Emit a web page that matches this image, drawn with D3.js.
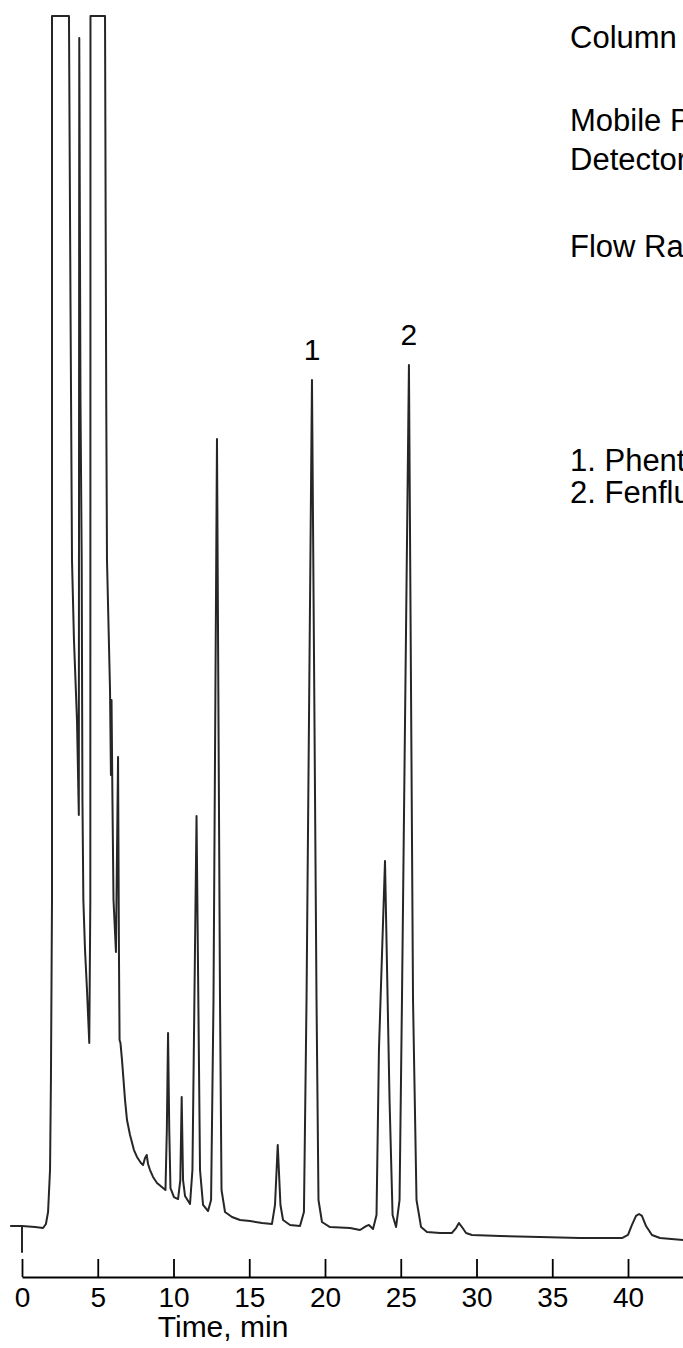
<!DOCTYPE html>
<html>
<head>
<meta charset="utf-8">
<script src="https://cdn.jsdelivr.net/npm/d3@7/dist/d3.min.js"></script>
<style>
  html, body { margin: 0; padding: 0; background: #fff; }
  svg { display: block; }
  text { font-family: "Liberation Sans", Arial, sans-serif; fill: #000; }
</style>
</head>
<body>
<svg id="chart" width="683" height="1348"></svg>
<script>
const traceTime = [
  -0.73, 0.00, 0.86, 1.39, 1.58, 1.72, 1.85, 1.91, 1.98, 1.98,
  3.10, 3.20, 3.30, 3.43, 3.63, 3.75, 3.78, 3.86, 3.94, 3.99,
  4.05, 4.16, 4.29, 4.44, 4.51, 4.52, 5.48, 5.56, 5.61, 5.81,
  5.87, 5.91, 5.97, 6.04, 6.20, 6.34, 6.40, 6.44, 6.50, 6.60,
  6.80, 6.93, 7.13, 7.39, 7.59, 7.85, 7.99, 8.12, 8.23, 8.32,
  8.45, 8.65, 8.91, 9.31, 9.47, 9.56, 9.64, 9.72, 9.80, 10.03,
  10.30, 10.45, 10.54, 10.63, 10.76, 11.09, 11.25, 11.52, 11.75, 11.95,
  12.28, 12.48, 12.64, 12.87, 13.07, 13.17, 13.40, 13.86, 14.39, 15.05,
  15.84, 16.50, 16.70, 16.88, 17.06, 17.23, 17.69, 18.35, 18.61, 18.78,
  19.14, 19.44, 19.57, 19.80, 20.33, 21.65, 22.31, 22.71, 22.90, 23.17,
  23.40, 23.56, 23.96, 24.26, 24.46, 24.69, 24.92, 25.08, 25.54, 25.81,
  26.04, 26.34, 26.73, 27.59, 28.38, 28.65, 28.84, 29.04, 29.31, 29.70,
  31.55, 34.19, 36.83, 39.60, 40.00, 40.26, 40.53, 40.73, 40.92, 41.19,
  41.58, 42.11, 43.63
];

// Detector response (% of recorder full scale) at each of those times
const traceSignal = [
  1.94, 1.94, 1.86, 1.78, 2.11, 3.08, 6.48, 13.78, 28.36, 100,
  100, 76.99, 55.92, 49.43, 42.95, 35.25, 98.22, 68.88, 55.92, 36.47,
  28.36, 24.31, 21.07, 16.77, 28.36, 100, 100, 68.88, 55.92, 45.38,
  38.49, 44.57, 36.47, 28.36, 24.15, 39.95, 23.91, 17.02, 16.77, 15.40,
  12.16, 10.53, 9.32, 8.10, 7.54, 7.05, 6.89, 7.46, 7.70, 6.97,
  6.48, 5.92, 5.43, 5.02, 4.86, 9.72, 17.59, 9.72, 5.02, 4.29,
  4.13, 5.67, 12.40, 5.67, 4.38, 3.73, 6.48, 35.17, 6.48, 3.65,
  3.16, 4.05, 20.26, 65.72, 20.26, 4.86, 3.08, 2.67, 2.43, 2.35,
  2.19, 2.11, 3.65, 8.51, 3.65, 2.43, 2.03, 1.94, 3.08, 20.26,
  70.50, 20.26, 4.05, 2.27, 1.86, 1.78, 1.62, 1.94, 2.03, 1.70,
  2.84, 16.21, 31.52, 12.16, 2.84, 1.86, 4.05, 20.26, 71.72, 20.26,
  4.05, 1.86, 1.46, 1.38, 1.38, 1.78, 2.19, 1.86, 1.38, 1.22,
  1.13, 1.05, 0.97, 0.97, 1.22, 2.03, 2.76, 2.92, 2.76, 1.94,
  1.22, 0.97, 0.81
];

// Injection mark on the time axis
const injectionTime = 0;
const injectionSignal = [1.94, -0.22];

// Time axis
const timeTicks = [0, 5, 10, 15, 20, 25, 30, 35, 40];
const timeDomain = [0, 43.63];
const axisTitle = "Time, min";

// Numbered peaks
const peakNumbers = ["1", "2"];
const peakTimes = [19.14, 25.54];
const peakHeights = [70.50, 71.72];

// Run conditions and peak identities
const conditionLines = ["Column", "Mobile Phase", "Detector", "Flow Rate"];
const compoundNames = ["1. Phentermine", "2. Fenfluramine"];

const svg = d3.select("#chart");

const x = d3.scaleLinear().domain(timeDomain).range([22, 683]);
const y = d3.scaleLinear().domain([0, 100]).range([1250, 16]);

const points = traceTime.map((t, i) => [t, traceSignal[i]]);

const line = d3.line()
  .x(d => x(d[0]))
  .y(d => y(d[1]))
  .curve(d3.curveLinear);

// Recorder trace
svg.append("path")
  .datum(points)
  .attr("d", line)
  .attr("fill", "none")
  .attr("stroke", "#262626")
  .attr("stroke-width", 2)
  .attr("stroke-linejoin", "round")
  .attr("stroke-linecap", "round");

// Injection mark
svg.append("path")
  .datum(injectionSignal.map(v => [injectionTime, v]))
  .attr("d", line)
  .attr("fill", "none")
  .attr("stroke", "#262626")
  .attr("stroke-width", 2);

// Time axis with upward ticks
const axis = d3.axisBottom(x)
  .tickValues(timeTicks)
  .tickFormat(d3.format("d"))
  .tickSizeInner(-18)
  .tickSizeOuter(0)
  .tickPadding(10);

const gAxis = svg.append("g")
  .attr("transform", "translate(0,1277)")
  .call(axis);

gAxis.select(".domain").attr("stroke", "#000").attr("stroke-width", 1.8);
gAxis.selectAll(".tick line").attr("stroke", "#000").attr("stroke-width", 1.8);
gAxis.selectAll(".tick text")
  .attr("font-family", "Liberation Sans, Arial, sans-serif")
  .attr("font-size", 28)
  .attr("fill", "#000");

svg.append("text")
  .attr("x", x(13.27))
  .attr("y", 1337)
  .attr("text-anchor", "middle")
  .attr("font-size", 30)
  .text(axisTitle);

// Peak numbers above their apexes
svg.selectAll(".peak-no")
  .data(peakNumbers)
  .join("text")
  .attr("class", "peak-no")
  .attr("x", (d, i) => x(peakTimes[i]))
  .attr("y", (d, i) => y(peakHeights[i]) - 20)
  .attr("text-anchor", "middle")
  .attr("font-size", 30)
  .text(d => d);

// Conditions block
const condY = [48, 131, 170, 257];
svg.selectAll(".cond")
  .data(conditionLines)
  .join("text")
  .attr("class", "cond")
  .attr("x", 570)
  .attr("y", (d, i) => condY[i])
  .attr("font-size", 31)
  .text(d => d);

// Compound list
svg.selectAll(".cmpd")
  .data(compoundNames)
  .join("text")
  .attr("class", "cmpd")
  .attr("x", 570)
  .attr("y", (d, i) => 471 + i * 32)
  .attr("font-size", 31)
  .text(d => d);
</script>
</body>
</html>
